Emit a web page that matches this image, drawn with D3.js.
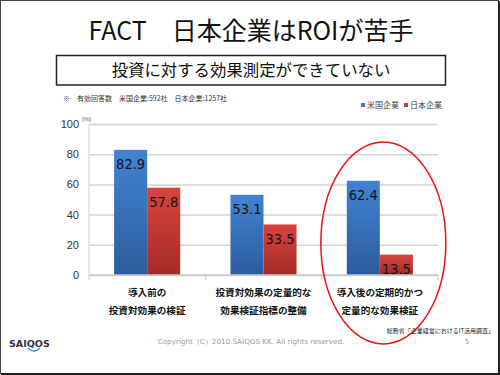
<!DOCTYPE html>
<html>
<head>
<meta charset="utf-8">
<script src="https://cdn.jsdelivr.net/npm/d3@7"></script>
<style>
  body { margin: 0; background: #fff; }
  svg { display: block; }
</style>
</head>
<body>
<div id="chart"></div>
<script>
// chart data
var categories = [
  ["導入前の", "投資対効果の検証"],
  ["投資対効果の定量的な", "効果検証指標の整備"],
  ["導入後の定期的かつ", "定量的な効果検証"]
];
var seriesNames = ["米国企業", "日本企業"];
var usValues = [82.9, 53.1, 62.4];
var jpValues = [57.8, 33.5, 13.5];
var yTicks = [0, 20, 40, 60, 80, 100];

var W = 500, H = 375;
var plot = { left: 89, right: 438, top: 124, bottom: 275 };

var svg = d3.select("#chart").append("svg")
    .attr("width", W)
    .attr("height", H);

// gradients for the bars
var defs = svg.append("defs");
var grads = [["gBlue", "#4283d2", "#2c5c9c"], ["gRed", "#d9433c", "#a42b27"]];
grads.forEach(function(g) {
  var lg = defs.append("linearGradient").attr("id", g[0])
      .attr("x1", 0).attr("y1", 0).attr("x2", 0).attr("y2", 1);
  lg.append("stop").attr("offset", "0%").attr("stop-color", g[1]);
  lg.append("stop").attr("offset", "100%").attr("stop-color", g[2]);
});

// slide frame
svg.append("rect").attr("x", 0.5).attr("y", 0.5).attr("width", W - 2).attr("height", H - 2)
    .attr("fill", "none").attr("stroke", "#444").attr("stroke-width", 1);
svg.append("line").attr("x1", W - 1).attr("x2", W - 1).attr("y1", 1).attr("y2", H)
    .attr("stroke", "#222").attr("stroke-width", 2);
svg.append("line").attr("x1", 1).attr("x2", W).attr("y1", H - 1).attr("y2", H - 1)
    .attr("stroke", "#222").attr("stroke-width", 2);

// title
svg.append("text")
    .attr("x", 251).attr("y", 40)
    .attr("text-anchor", "middle")
    .style("font-family", "'Noto Sans CJK JP', 'Noto Sans', sans-serif")
    .style("font-size", "25px")
    .style("fill", "#111")
    .text("FACT　日本企業はROIが苦手");

// subtitle box
svg.append("rect").attr("x", 56.5).attr("y", 55.5).attr("width", 389).attr("height", 29.5)
    .attr("fill", "#fff").attr("stroke", "#222").attr("stroke-width", 1.5);
svg.append("text")
    .attr("x", 251).attr("y", 76)
    .attr("text-anchor", "middle")
    .style("font-family", "'Noto Sans CJK JP', sans-serif")
    .style("font-size", "16.4px")
    .style("fill", "#111")
    .text("投資に対する効果測定ができていない");

// note
svg.append("text").attr("x", 63).attr("y", 100.5)
    .style("font-family", "'Noto Sans CJK JP', 'DejaVu Sans', sans-serif").style("font-size", "7px").style("fill", "#333")
    .text("\u203B\uFE0E");
svg.append("text").attr("x", 77).attr("y", 100.5)
    .style("font-family", "'Noto Sans CJK JP', sans-serif").style("font-size", "7px").style("fill", "#333")
    .text("有効回答数　米国企業:592社　日本企業:1257社");

// scales
var x0 = d3.scaleBand().domain(d3.range(categories.length)).range([plot.left, plot.right]).padding(0);
var x1 = d3.scaleBand().domain(seriesNames).range([0, x0.bandwidth()]).paddingInner(0).paddingOuter(0.76);
var y = d3.scaleLinear().domain([0, 100]).range([plot.bottom, plot.top]);

// grid + y axis
var yAxis = svg.append("g")
    .attr("transform", "translate(" + plot.left + ",0)")
    .call(d3.axisLeft(y).tickValues(yTicks).tickSize(-(plot.right - plot.left)).tickPadding(10));
yAxis.select(".domain").remove();
yAxis.selectAll(".tick line").attr("stroke", "#d4d4d4").attr("stroke-width", 1.5);
yAxis.selectAll(".tick text")
    .style("font-family", "'Liberation Sans', Arial, sans-serif")
    .style("font-size", "11px")
    .style("fill", "#333");

svg.append("text").attr("x", 82).attr("y", 121)
    .style("font-family", "'Liberation Sans', sans-serif").style("font-size", "6px").style("fill", "#555")
    .text("(%)");

// y axis line
svg.append("line").attr("x1", plot.left).attr("x2", plot.left)
    .attr("y1", plot.top).attr("y2", plot.bottom)
    .attr("stroke", "#d0d0d0").attr("stroke-width", 1);

// bars
var rows = categories.map(function(c, i) {
  return [
    { s: seriesNames[0], v: usValues[i], fill: "url(#gBlue)" },
    { s: seriesNames[1], v: jpValues[i], fill: "url(#gRed)" }
  ];
});

var groups = svg.selectAll("g.grp")
    .data(rows)
    .enter().append("g")
    .attr("class", "grp")
    .attr("transform", function(d, i) { return "translate(" + x0(i) + ",0)"; });

groups.selectAll("rect")
    .data(function(d) { return d; })
    .enter().append("rect")
    .attr("x", function(d) { return x1(d.s); })
    .attr("y", function(d) { return y(d.v); })
    .attr("width", x1.bandwidth())
    .attr("height", function(d) { return y(0) - y(d.v); })
    .attr("fill", function(d) { return d.fill; });

groups.selectAll("text.val")
    .data(function(d) { return d; })
    .enter().append("text")
    .attr("class", "val")
    .attr("x", function(d) { return x1(d.s) + x1.bandwidth() / 2; })
    .attr("y", function(d) { return y(d.v) + 19.5; })
    .attr("text-anchor", "middle")
    .style("font-family", "'DejaVu Sans Condensed', 'DejaVu Sans', sans-serif")
    .style("font-size", "14.5px")
    .style("fill", "#151515")
    .text(function(d) { return d.v.toFixed(1); });

// x axis baseline and ticks
svg.append("line").attr("x1", plot.left).attr("x2", plot.right)
    .attr("y1", plot.bottom).attr("y2", plot.bottom)
    .attr("stroke", "#c8c8c8").attr("stroke-width", 1.5);
var bounds = d3.range(categories.length).map(function(i) { return x0(i); }).concat([plot.right]);
svg.selectAll("line.xt")
    .data(bounds)
    .enter().append("line")
    .attr("class", "xt")
    .attr("x1", function(d) { return d; }).attr("x2", function(d) { return d; })
    .attr("y1", plot.bottom).attr("y2", plot.bottom + 5)
    .attr("stroke", "#c8c8c8").attr("stroke-width", 1);

// category labels
var catText = svg.selectAll("text.cat")
    .data(categories)
    .enter().append("text")
    .attr("class", "cat")
    .attr("text-anchor", "middle")
    .style("font-family", "'Noto Sans CJK JP', sans-serif")
    .style("font-size", "9.6px")
    .style("font-weight", "bold")
    .style("fill", "#111");
catText.each(function(d, i) {
  var t = d3.select(this);
  var cx = x0(i) + x0.bandwidth() / 2;
  d.forEach(function(line, j) {
    t.append("tspan").attr("x", cx).attr("y", 295.5 + j * 18.5).text(line);
  });
});

// legend
var legend = svg.append("g");
var legX = [361, 404];
seriesNames.forEach(function(s, i) {
  legend.append("rect").attr("x", legX[i]).attr("y", 103).attr("width", 4).attr("height", 4)
      .attr("fill", i === 0 ? "#3a77c4" : "#c9342f");
  legend.append("text").attr("x", legX[i] + 6).attr("y", 108)
      .style("font-family", "'Noto Sans CJK JP', sans-serif").style("font-size", "8px").style("fill", "#444")
      .text(s);
});

// red highlight ellipse
svg.append("ellipse")
    .attr("cx", x0(2) + x0.bandwidth() / 2 + 3.5).attr("cy", 243)
    .attr("rx", 62.5).attr("ry", 101)
    .attr("fill", "none").attr("stroke", "#ee1111").attr("stroke-width", 1.5);

// source
svg.append("text").attr("x", 494).attr("y", 333)
    .attr("text-anchor", "end")
    .style("font-family", "'Noto Sans CJK JP', sans-serif").style("font-size", "6px").style("fill", "#222")
    .text("総務省「企業経営におけるIT活用調査」");

// footer
svg.append("text").attr("x", 251).attr("y", 343.5)
    .attr("text-anchor", "middle")
    .style("font-family", "'DejaVu Sans', sans-serif").style("font-size", "7.2px").style("fill", "#9a9a9a")
    .text("Copyright（C）2010 SAIQOS KK. All rights reserved.");
svg.append("text").attr("x", 467).attr("y", 343.5)
    .attr("text-anchor", "middle")
    .style("font-family", "'DejaVu Sans', sans-serif").style("font-size", "7.2px").style("fill", "#9a9a9a")
    .text("5");

// logo
svg.append("text").attr("x", 9).attr("y", 346.5)
    .style("font-family", "'DejaVu Sans', sans-serif").style("font-size", "9.5px")
    .style("font-weight", "bold").style("fill", "#2d3545")
    .text("SAIQOS");
svg.append("path")
    .attr("d", "M28,348 Q34,354 40,348")
    .attr("fill", "none").attr("stroke", "#3b8fe0").attr("stroke-width", 1.3);
</script>
</body>
</html>
